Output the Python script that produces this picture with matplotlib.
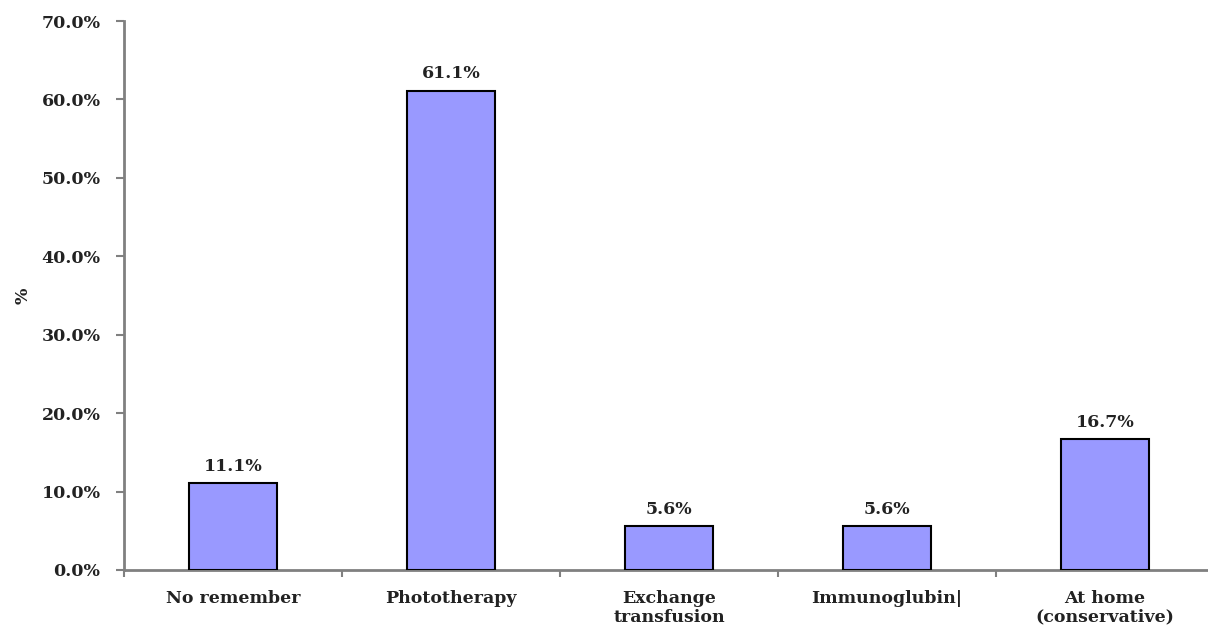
import matplotlib
matplotlib.use("Agg")
import matplotlib.pyplot as plt
import numpy as np
from matplotlib.ticker import FuncFormatter, FixedLocator

categories = ["No remember", "Phototherapy", "Exchange\ntransfusion", "Immunoglubin|", "At home\n(conservative)"]
values = [11.1, 61.1, 5.6, 5.6, 16.7]

plt.rcParams["font.family"] = ["DejaVu Serif"]
plt.rcParams["font.weight"] = "bold"

fig = plt.figure(figsize=(12.08, 6.35), dpi=100)
ax = fig.add_axes([124 / 1208, 65 / 635, 1090 / 1208, 549 / 635])

x = np.arange(len(categories))
bars = ax.bar(x, values, width=0.4, color="#9999FF", edgecolor="black", linewidth=1.5, zorder=3)
for xi, v in zip(x, values):
    ax.annotate(f"{v:.1f}%", (xi, v), xytext=(0, 6), textcoords="offset points",
                ha="center", va="bottom", fontsize=12.5, fontweight="bold", color="#222222")

ax.set_xlim(-0.5, len(categories) - 0.5)
ax.set_ylim(0, 70)
ax.set_yticks(np.arange(0, 71, 10))
ax.yaxis.set_major_formatter(FuncFormatter(lambda v, _: f"{v:.1f}%"))
ax.tick_params(axis="y", length=6, width=1.5, color="#808080", pad=11, labelsize=12.5)

# category boundaries carry the tick marks, names sit centred under each bar
ax.xaxis.set_major_locator(FixedLocator(np.arange(-0.5, len(categories), 1.0)))
ax.xaxis.set_major_formatter(FuncFormatter(lambda v, _: ""))
ax.tick_params(axis="x", length=5, width=1.5, color="#808080")
for xi, name in zip(x, categories):
    ax.text(xi, -2.5, name, ha="center", va="top", fontsize=12.5, fontweight="bold",
            linespacing=1.15, color="#222222")

for lab in ax.get_yticklabels():
    lab.set_fontweight("bold")
    lab.set_color("#222222")

ax.set_ylabel("%", fontsize=12.5, fontweight="bold", color="#222222")
ax.yaxis.set_label_coords(-0.085, 0.5)
for s in ("top", "right"):
    ax.spines[s].set_visible(False)
for s in ("left", "bottom"):
    ax.spines[s].set_color("#808080")
    ax.spines[s].set_linewidth(2)

fig.savefig("out.png", dpi=100)
